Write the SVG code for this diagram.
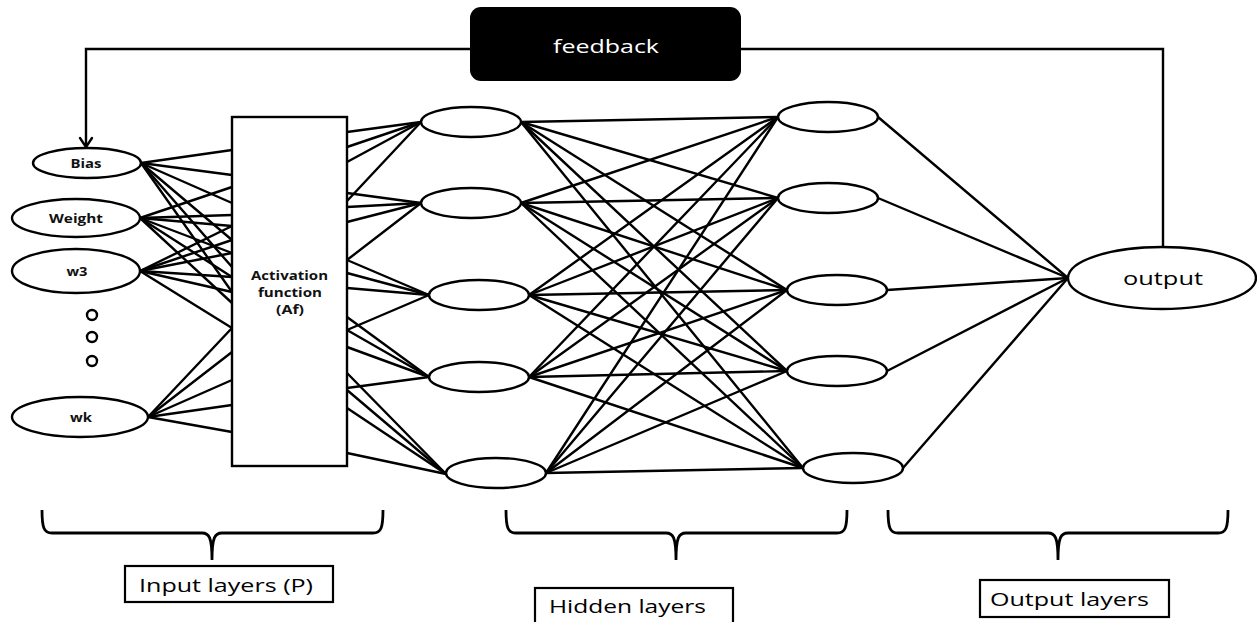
<svg xmlns="http://www.w3.org/2000/svg" width="1257" height="622" viewBox="0 0 1257 622">
  <style>
    .node { fill: #fff; stroke: #000; stroke-width: 2.4; }
    .link { stroke: #000; stroke-width: 2.4; fill: none; stroke-linecap: round; }
    .brace { stroke: #000; stroke-width: 2.8; fill: none; }
    .lbl-b { font-family: "Open Sans", "Liberation Sans", sans-serif; font-weight: bold; font-size: 12px; fill: #111; text-anchor: middle; }
    .lbl { font-family: "Open Sans", "Liberation Sans", sans-serif; font-size: 18px; fill: #000; }
    .cap { fill: #fff; stroke: #000; stroke-width: 2.2; }
  </style>

  <!-- connectors -->
  <g id="connectors">
    <!-- feedback loop -->
    <polyline class="link" points="1163,247 1163,49 86,49 86,146"/>
    <polyline class="link" points="80,138 86,147 92,138"/>

    <!-- inputs to activation block -->
    <g id="inputs-to-af">
      <line class="link" x1="141" y1="163" x2="232" y2="150"/>
      <line class="link" x1="141" y1="163" x2="232" y2="175"/>
      <line class="link" x1="141" y1="163" x2="232" y2="203"/>
      <line class="link" x1="141" y1="163" x2="232" y2="240"/>
      <line class="link" x1="141" y1="163" x2="232" y2="267"/>
      <line class="link" x1="141" y1="163" x2="232" y2="292"/>
      <line class="link" x1="140" y1="218" x2="232" y2="187"/>
      <line class="link" x1="140" y1="218" x2="232" y2="215"/>
      <line class="link" x1="140" y1="218" x2="232" y2="226"/>
      <line class="link" x1="140" y1="218" x2="232" y2="253"/>
      <line class="link" x1="140" y1="218" x2="232" y2="277"/>
      <line class="link" x1="140" y1="218" x2="232" y2="303"/>
      <line class="link" x1="140" y1="271" x2="232" y2="226"/>
      <line class="link" x1="140" y1="271" x2="232" y2="240"/>
      <line class="link" x1="140" y1="271" x2="232" y2="253"/>
      <line class="link" x1="140" y1="271" x2="232" y2="277"/>
      <line class="link" x1="140" y1="271" x2="232" y2="292"/>
      <line class="link" x1="140" y1="271" x2="232" y2="328"/>
      <line class="link" x1="148" y1="417" x2="232" y2="328"/>
      <line class="link" x1="148" y1="417" x2="232" y2="352"/>
      <line class="link" x1="148" y1="417" x2="232" y2="380"/>
      <line class="link" x1="148" y1="417" x2="232" y2="405"/>
      <line class="link" x1="148" y1="417" x2="232" y2="432"/>
    </g>

    <!-- activation block to first hidden layer -->
    <g id="af-to-hidden1">
      <line class="link" x1="347" y1="132" x2="421" y2="122"/>
      <line class="link" x1="347" y1="147" x2="421" y2="122"/>
      <line class="link" x1="347" y1="162" x2="421" y2="122"/>
      <line class="link" x1="347" y1="201" x2="421" y2="122"/>
      <line class="link" x1="347" y1="193" x2="421" y2="203"/>
      <line class="link" x1="347" y1="207" x2="421" y2="203"/>
      <line class="link" x1="347" y1="222" x2="421" y2="203"/>
      <line class="link" x1="347" y1="260" x2="421" y2="203"/>
      <line class="link" x1="347" y1="260" x2="429" y2="295"/>
      <line class="link" x1="347" y1="273" x2="429" y2="295"/>
      <line class="link" x1="347" y1="288" x2="429" y2="295"/>
      <line class="link" x1="347" y1="330" x2="429" y2="295"/>
      <line class="link" x1="347" y1="317" x2="429" y2="377"/>
      <line class="link" x1="347" y1="330" x2="429" y2="377"/>
      <line class="link" x1="347" y1="347" x2="429" y2="377"/>
      <line class="link" x1="347" y1="388" x2="429" y2="377"/>
      <line class="link" x1="347" y1="373" x2="446" y2="474"/>
      <line class="link" x1="347" y1="390" x2="446" y2="474"/>
      <line class="link" x1="347" y1="408" x2="446" y2="474"/>
      <line class="link" x1="347" y1="453" x2="446" y2="474"/>
    </g>

    <!-- first hidden layer to second hidden layer (fully connected) -->
    <g id="hidden1-to-hidden2">
      <line class="link" x1="521" y1="122" x2="778" y2="117"/>
      <line class="link" x1="521" y1="122" x2="778" y2="198"/>
      <line class="link" x1="521" y1="122" x2="787" y2="290"/>
      <line class="link" x1="521" y1="122" x2="787" y2="371"/>
      <line class="link" x1="521" y1="122" x2="803" y2="468"/>
      <line class="link" x1="521" y1="203" x2="778" y2="117"/>
      <line class="link" x1="521" y1="203" x2="778" y2="198"/>
      <line class="link" x1="521" y1="203" x2="787" y2="290"/>
      <line class="link" x1="521" y1="203" x2="787" y2="371"/>
      <line class="link" x1="521" y1="203" x2="803" y2="468"/>
      <line class="link" x1="529" y1="295" x2="778" y2="117"/>
      <line class="link" x1="529" y1="295" x2="778" y2="198"/>
      <line class="link" x1="529" y1="295" x2="787" y2="290"/>
      <line class="link" x1="529" y1="295" x2="787" y2="371"/>
      <line class="link" x1="529" y1="295" x2="803" y2="468"/>
      <line class="link" x1="529" y1="377" x2="778" y2="117"/>
      <line class="link" x1="529" y1="377" x2="778" y2="198"/>
      <line class="link" x1="529" y1="377" x2="787" y2="290"/>
      <line class="link" x1="529" y1="377" x2="787" y2="371"/>
      <line class="link" x1="529" y1="377" x2="803" y2="468"/>
      <line class="link" x1="546" y1="473" x2="778" y2="117"/>
      <line class="link" x1="546" y1="473" x2="778" y2="198"/>
      <line class="link" x1="546" y1="473" x2="787" y2="290"/>
      <line class="link" x1="546" y1="473" x2="787" y2="371"/>
      <line class="link" x1="546" y1="473" x2="803" y2="468"/>
    </g>

    <!-- second hidden layer to output -->
    <g id="hidden2-to-output">
      <line class="link" x1="878" y1="117" x2="1068" y2="278"/>
      <line class="link" x1="878" y1="198" x2="1068" y2="278"/>
      <line class="link" x1="887" y1="290" x2="1068" y2="278"/>
      <line class="link" x1="887" y1="371" x2="1068" y2="278"/>
      <line class="link" x1="903" y1="468" x2="1068" y2="278"/>
    </g>
  </g>

  <!-- feedback block -->
  <g id="feedback">
    <rect x="470" y="7" width="271" height="74" rx="11" fill="#000"/>
    <text x="606" y="53" text-anchor="middle" font-family="'Open Sans', 'Liberation Sans', sans-serif" font-size="19" fill="#fff" textLength="106" lengthAdjust="spacingAndGlyphs">feedback</text>
  </g>

  <!-- input nodes -->
  <g id="in-bias">
    <ellipse class="node" cx="87" cy="163" rx="54" ry="15"/>
    <text class="lbl-b" x="86" y="168" textLength="31" lengthAdjust="spacingAndGlyphs">Bias</text>
  </g>
  <g id="in-weight">
    <ellipse class="node" cx="76" cy="218" rx="64" ry="19"/>
    <text class="lbl-b" x="76" y="223" textLength="54" lengthAdjust="spacingAndGlyphs">Weight</text>
  </g>
  <g id="in-w3">
    <ellipse class="node" cx="76" cy="271" rx="64" ry="22"/>
    <text class="lbl-b" x="77" y="276" textLength="21" lengthAdjust="spacingAndGlyphs">w3</text>
  </g>
  <g id="in-dots">
    <circle class="node" cx="92" cy="315" r="5"/>
    <circle class="node" cx="92" cy="337" r="5"/>
    <circle class="node" cx="92" cy="361" r="5"/>
  </g>
  <g id="in-wk">
    <ellipse class="node" cx="80" cy="417" rx="68" ry="20"/>
    <text class="lbl-b" x="81" y="422" textLength="22" lengthAdjust="spacingAndGlyphs">wk</text>
  </g>

  <!-- activation function block -->
  <g id="activation">
    <rect class="node" x="232" y="117" width="115" height="349" stroke-width="2.8"/>
    <text class="lbl-b" font-size="13" x="289.5" y="280" textLength="77" lengthAdjust="spacingAndGlyphs">Activation</text>
    <text class="lbl-b" font-size="13" x="290" y="297" textLength="64" lengthAdjust="spacingAndGlyphs">function</text>
    <text class="lbl-b" font-size="13" x="290" y="314" textLength="28" lengthAdjust="spacingAndGlyphs">(Af)</text>
  </g>

  <!-- first hidden layer -->
  <g id="h1-1"><ellipse class="node" cx="471" cy="122" rx="50" ry="15"/></g>
  <g id="h1-2"><ellipse class="node" cx="471" cy="203" rx="50" ry="15"/></g>
  <g id="h1-3"><ellipse class="node" cx="479" cy="295" rx="50" ry="15"/></g>
  <g id="h1-4"><ellipse class="node" cx="479" cy="377" rx="50" ry="15"/></g>
  <g id="h1-5"><ellipse class="node" cx="496" cy="473" rx="50" ry="15"/></g>

  <!-- second hidden layer -->
  <g id="h2-1"><ellipse class="node" cx="828" cy="117" rx="50" ry="15"/></g>
  <g id="h2-2"><ellipse class="node" cx="828" cy="198" rx="50" ry="15"/></g>
  <g id="h2-3"><ellipse class="node" cx="837" cy="290" rx="50" ry="15"/></g>
  <g id="h2-4"><ellipse class="node" cx="837" cy="371" rx="50" ry="15"/></g>
  <g id="h2-5"><ellipse class="node" cx="853" cy="468" rx="50" ry="15"/></g>

  <!-- output node -->
  <g id="out">
    <ellipse class="node" cx="1162" cy="278" rx="94" ry="31"/>
    <text x="1163" y="285" text-anchor="middle" font-family="'Open Sans', 'Liberation Sans', sans-serif" font-size="19" fill="#000" textLength="80" lengthAdjust="spacingAndGlyphs">output</text>
  </g>

  <!-- layer braces and captions -->
  <g id="brace-input">
    <path class="brace" d="M42,510 C42,528 44,533 52,533 L202,533 C209,533 212,537 212,560 C212,537 215,533 222,533 L373,533 C381,533 383,528 383,510"/>
    <rect class="cap" x="125" y="566" width="208" height="36"/>
    <text class="lbl" x="139" y="592" textLength="174" lengthAdjust="spacingAndGlyphs">Input layers (P)</text>
  </g>
  <g id="brace-hidden">
    <path class="brace" d="M506,510 C506,528 508,533 516,533 L666,533 C673,533 676,537 676,560 C676,537 679,533 686,533 L837,533 C845,533 847,528 847,510"/>
    <rect class="cap" x="535" y="588" width="198" height="40"/>
    <text class="lbl" x="549" y="613" textLength="157" lengthAdjust="spacingAndGlyphs">Hidden layers</text>
  </g>
  <g id="brace-output">
    <path class="brace" d="M888,510 C888,528 890,533 898,533 L1048,533 C1055,533 1058,537 1058,560 C1058,537 1061,533 1068,533 L1218,533 C1226,533 1228,528 1228,510"/>
    <rect class="cap" x="980" y="580" width="189" height="37"/>
    <text class="lbl" x="990" y="606" textLength="159" lengthAdjust="spacingAndGlyphs">Output layers</text>
  </g>
</svg>
